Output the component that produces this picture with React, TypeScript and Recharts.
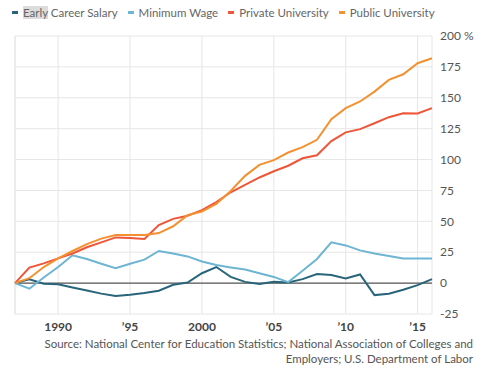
import { CartesianGrid, Line, LineChart, ReferenceLine, XAxis, YAxis } from 'recharts'

const years = [
  1987, 1988, 1989, 1990, 1991, 1992, 1993, 1994, 1995, 1996, 1997, 1998, 1999, 2000, 2001,
  2002, 2003, 2004, 2005, 2006, 2007, 2008, 2009, 2010, 2011, 2012, 2013, 2014, 2015, 2016,
]
const earlyCareer = [
  0, 3, -0.5, -1, -3.5, -6, -8.5, -10.5, -9.5, -8, -6.2, -1.4, 0.5, 8, 13, 5, 1, -0.8, 1, 0.5,
  3.2, 7.3, 6.5, 3.8, 7, -9.7, -8.6, -5.4, -1.6, 3.2,
]
const minimumWage = [
  0, -4.5, 4.5, 13, 22.5, 19.5, 15.7, 12, 15.7, 19, 26, 24, 21.6, 17.5, 14.6, 12.7, 11, 8, 5,
  0.8, 10, 19.5, 33, 30.5, 26.5, 24, 22, 20, 20, 20,
]
const privateUni = [
  0, 12.5, 16, 20, 24, 29, 33, 37, 36.5, 35.8, 47, 52, 54.5, 59, 65.5, 73.5, 79.5, 85.5, 90.5,
  95, 101, 103.5, 115, 122, 124.6, 129.4, 134.3, 137.5, 137.3, 141.6,
]
const publicUni = [
  0, 4, 13, 20, 26, 31.5, 36, 39, 39, 39, 40.5, 46, 55, 58, 64, 74.5, 86.8, 95.7, 99.5, 105.7,
  110, 116, 132.7, 141.6, 147, 155, 164.5, 169, 178, 182,
]
const xTicks = [1990, 1995, 2000, 2005, 2010, 2015]
const yTicks = [-25, 0, 25, 50, 75, 100, 125, 150, 175, 200]

const series = [
  { key: 'early', name: 'Early Career Salary', color: '#28657a' },
  { key: 'minWage', name: 'Minimum Wage', color: '#6db5d3' },
  { key: 'private', name: 'Private University', color: '#ef5538' },
  { key: 'public', name: 'Public University', color: '#f39130' },
]

const data = years.map((year, i) => ({
  year,
  early: earlyCareer[i],
  minWage: minimumWage[i],
  private: privateUni[i],
  public: publicUni[i],
}))

const font = 'Lato, "Open Sans", sans-serif'

const fmtYear = (y: number) => (y % 1000 === 990 || y === 2000 ? String(y) : `’${String(y).slice(2)}`)

export default function App() {
  return (
    <div style={{ position: 'absolute', left: 0, top: 0, width: 481, height: 377, background: '#fff', fontFamily: font }}>
      <div style={{ position: 'absolute', left: 12, top: 6, display: 'flex', gap: 10, fontSize: 11.5, color: '#666', whiteSpace: 'nowrap' }}>
        {series.map((s, i) => (
          <div key={s.key} style={{ display: 'flex', alignItems: 'center', gap: 5 }}>
            <span style={{ width: 6, height: 2.5, background: s.color, display: 'inline-block' }} />
            {i === 0 ? (
              <span>
                <span style={{ background: '#dcdcdc' }}>Early</span> Career Salary
              </span>
            ) : (
              <span>{s.name}</span>
            )}
          </div>
        ))}
      </div>
      <div style={{ position: 'absolute', left: 0, top: 0 }}>
        <LineChart width={481} height={340} data={data} margin={{ top: 36, right: 0, bottom: 0, left: 15 }}>
          <CartesianGrid stroke="#e6e6e6" strokeWidth={1} />
          <XAxis
            dataKey="year"
            type="number"
            domain={[1987, 2016]}
            ticks={xTicks}
            tickFormatter={fmtYear}
            axisLine={false}
            tickLine={false}
            height={26}
            tick={{ fill: '#444', fontSize: 12, fontWeight: 700, fontFamily: font }}
          />
          <YAxis
            orientation="right"
            type="number"
            domain={[-25, 200]}
            ticks={yTicks}
            tickFormatter={(v: number) => (v === 200 ? '200 %' : String(v))}
            axisLine={false}
            tickLine={false}
            width={49}
            tick={{ fill: '#555', fontSize: 12, fontFamily: font, textAnchor: 'start' }}
          />
          <ReferenceLine x={1987} stroke="#e6e6e6" />
          <ReferenceLine y={0} stroke="#333" strokeWidth={1} />
          {series.map((s) => (
            <Line
              key={s.key}
              dataKey={s.key}
              name={s.name}
              stroke={s.color}
              strokeWidth={2}
              dot={false}
              type="linear"
              isAnimationActive={false}
            />
          ))}
        </LineChart>
      </div>
      <div
        style={{
          position: 'absolute',
          right: 8,
          top: 336,
          textAlign: 'right',
          fontSize: 11.5,
          lineHeight: '15px',
          color: '#555',
          whiteSpace: 'nowrap',
        }}
      >
        Source: National Center for Education Statistics; National Association of Colleges and
        <br />
        Employers; U.S. Department of Labor
      </div>
    </div>
  )
}
